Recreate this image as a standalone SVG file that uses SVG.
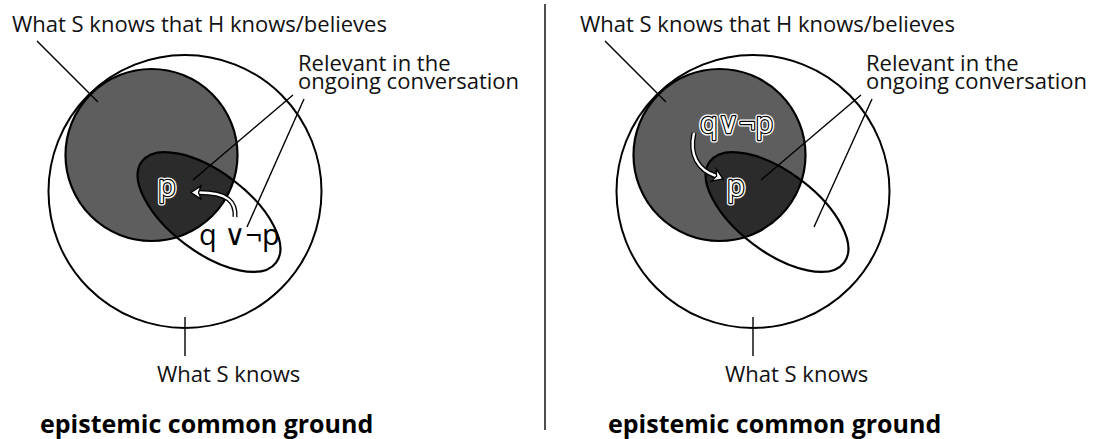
<svg xmlns="http://www.w3.org/2000/svg" width="1097" height="439" viewBox="0 0 1097 439">
<style>
.lbl{font-family:"Open Sans","Noto Sans","DejaVu Sans",sans-serif;font-size:22px;fill:#111}
.title{font-family:"Open Sans","Noto Sans","DejaVu Sans",sans-serif;font-size:25px;font-weight:bold;fill:#000}
.outer{fill:#fff;stroke:#000;stroke-width:2}
.gray{fill:#5e5e5e;stroke:none}
.grayline{fill:none;stroke:#000;stroke-width:2.2}
.dark{fill:#2b2b2b;stroke:none}
.ellline{fill:none;stroke:#000;stroke-width:2.2}
.lead{stroke:#000;stroke-width:1.4;fill:none}
.sym{font-family:"Open Sans","DejaVu Sans",sans-serif;font-size:29px}
.halo{fill:#fff;stroke:#fff;stroke-width:5;stroke-linejoin:round}
.outl{fill:#fff;stroke:#000;stroke-width:2.4;stroke-linejoin:round;paint-order:stroke}
.plain{fill:#000}
.arrB{fill:none;stroke:#000;stroke-width:5;stroke-linecap:butt}
.arrW{fill:none;stroke:#fff;stroke-width:2.4}
.head{fill:#fff;stroke:#000;stroke-width:1.3;stroke-linejoin:miter}
</style>
<defs>
<clipPath id="clipL"><circle cx="151.5" cy="155" r="86"/></clipPath>
<clipPath id="clipR"><circle cx="719.5" cy="155" r="86"/></clipPath>
</defs>

<line x1="545" y1="4" x2="545" y2="430" stroke="#222" stroke-width="1.6"/>

<!-- LEFT PANEL -->
<g id="left-what-s-knows">
<circle class="outer" cx="185" cy="191.5" r="136.5"/>
</g>
<g id="left-s-knows-h-knows">
<circle class="gray" cx="151.5" cy="155" r="86"/>
</g>
<g id="left-relevant">
<g clip-path="url(#clipL)">
<ellipse class="dark" cx="209" cy="212" rx="84" ry="40" transform="rotate(37 209 212)"/>
</g>
<ellipse class="ellline" cx="209" cy="212" rx="84" ry="40" transform="rotate(37 209 212)"/>
<circle class="grayline" cx="151.5" cy="155" r="86"/>
</g>
<g id="left-connectors">
<line class="lead" x1="37" y1="41" x2="98" y2="102"/>
<line class="lead" x1="293" y1="95" x2="193" y2="180"/>
<line class="lead" x1="304" y1="99" x2="247" y2="227"/>
<line class="lead" x1="185" y1="317" x2="185" y2="356"/>
</g>
<g id="left-arrow">
<path class="arrB" d="M235,217 C236,202 228,192.5 199,192.5"/>
<path class="arrW" d="M235,217 C236,202 228,192.5 199,192.5"/>
<polygon class="head" points="191,192.5 201,186 198.5,192.5 201,199"/>
</g>
<g id="left-p">
<text class="sym halo" x="158" y="196">p</text>
<text class="sym outl" x="158" y="196">p</text>
</g>
<g id="left-qvp">
<text class="sym plain" x="199" y="245">q ∨¬p</text>
</g>
<g id="left-labels">
<text class="lbl" x="12" y="32">What S knows that H knows/believes</text>
<text class="lbl"><tspan x="298" y="70.5">Relevant in the</tspan><tspan x="298" y="88.5">ongoing conversation</tspan></text>
<text class="lbl" x="157" y="382">What S knows</text>
<text class="title" x="40" y="433">epistemic common ground</text>
</g>

<!-- RIGHT PANEL -->
<g id="right-what-s-knows">
<circle class="outer" cx="753" cy="191.5" r="136.5"/>
</g>
<g id="right-s-knows-h-knows">
<circle class="gray" cx="719.5" cy="155" r="86"/>
</g>
<g id="right-relevant">
<g clip-path="url(#clipR)">
<ellipse class="dark" cx="777" cy="212" rx="84" ry="40" transform="rotate(37 777 212)"/>
</g>
<ellipse class="ellline" cx="777" cy="212" rx="84" ry="40" transform="rotate(37 777 212)"/>
<circle class="grayline" cx="719.5" cy="155" r="86"/>
</g>
<g id="right-connectors">
<line class="lead" x1="605" y1="41" x2="666" y2="102"/>
<line class="lead" x1="861" y1="95" x2="761" y2="180"/>
<line class="lead" x1="872" y1="99" x2="814" y2="227"/>
<line class="lead" x1="753" y1="317" x2="753" y2="356"/>
</g>
<g id="right-arrow">
<path class="arrB" d="M694,133 C689,155 698,170 716,176"/>
<path class="arrW" d="M694,133 C689,155 698,170 716,176"/>
<polygon class="head" points="723,179 711.3,181.1 716.6,176.3 716.3,169.1"/>
</g>
<g id="right-qvp">
<text class="sym halo" x="700" y="133">q∨¬p</text>
<text class="sym outl" x="700" y="133">q∨¬p</text>
</g>
<g id="right-p">
<text class="sym halo" x="727" y="196">p</text>
<text class="sym outl" x="727" y="196">p</text>
</g>
<g id="right-labels">
<text class="lbl" x="580" y="32">What S knows that H knows/believes</text>
<text class="lbl"><tspan x="866" y="70.5">Relevant in the</tspan><tspan x="866" y="88.5">ongoing conversation</tspan></text>
<text class="lbl" x="725" y="382">What S knows</text>
<text class="title" x="608" y="433">epistemic common ground</text>
</g>
</svg>
